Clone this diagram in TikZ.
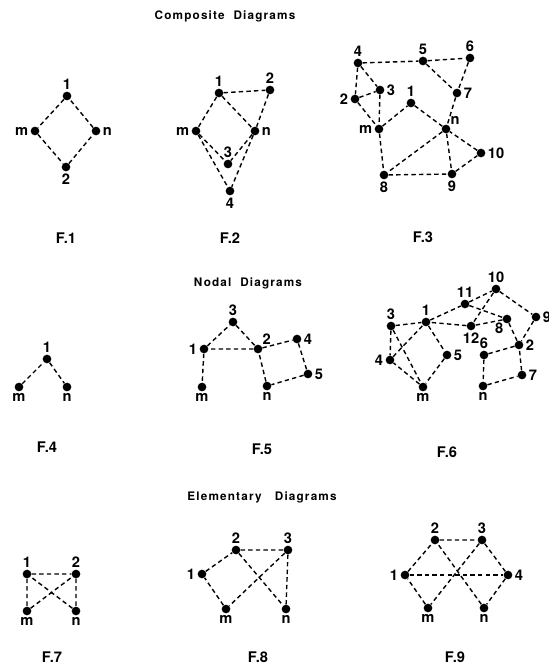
\documentclass[tikz,border=0pt]{standalone}
\usepackage{fontspec}
\setmainfont{TeX Gyre Heros}
\newfontfamily\titlefont[LetterSpace=10]{TeX Gyre Heros}
\begin{document}
\begin{tikzpicture}[x=0.75pt,y=-0.75pt,
  dot/.style={circle,fill=black,inner sep=0pt,minimum size=6.5pt},
  edge/.style={line width=1.05pt,dash pattern=on 3.3pt off 2.4pt},
  every label/.style={font=\bfseries\fontsize{11}{12}\selectfont,inner sep=1.5pt},
  figcap/.style={font=\bfseries\fontsize{11}{12}\selectfont},
  ttl/.style={font=\titlefont\bfseries\fontsize{8.8}{10}\selectfont}]
\useasboundingbox (0,0) rectangle (549,667);
% titles
\node[ttl] (t1) at (225,16) {Composite\ \ Diagrams};
\node[ttl] (t2) at (248,283) {Nodal\ \ Diagrams};
\node[ttl] (t3) at (262,497) {Elementary\ \ \ Diagrams};
% captions
\node[figcap] (c1) at (66,238) {F.1};
\node[figcap] (c2) at (230,238) {F.2};
\node[figcap] (c3) at (423,237) {F.3};
\node[figcap] (c4) at (47,447) {F.4};
\node[figcap] (c5) at (262,449) {F.5};
\node[figcap] (c6) at (447,452) {F.6};
\node[figcap] (c7) at (52,657) {F.7};
\node[figcap] (c8) at (258,657) {F.8};
\node[figcap] (c9) at (455,657) {F.9};
% F.1
\node[dot,label=above:1] (a1) at (67,96) {};
\node[dot,label=left:m] (am) at (35,131) {};
\node[dot,label=right:n] (an) at (96,131) {};
\node[dot,label=below:2] (a2) at (66,167) {};
\draw[edge] (a1) -- (am) -- (a2) -- (an) -- (a1);
% F.2
\node[dot,label=above:1] (b1) at (219,93) {};
\node[dot,label=above:2] (b2) at (270,90) {};
\node[dot,label=left:m] (bm) at (196,131) {};
\node[dot,label=right:n] (bn) at (255,131) {};
\node[dot,label=above:3] (b3) at (228,164) {};
\node[dot,label=below:4] (b4) at (230,191) {};
\draw[edge] (b1) -- (b2);
\draw[edge] (b1) -- (bm);
\draw[edge] (b1) -- (bn);
\draw[edge] (b2) -- (bn);
\draw[edge] (bm) -- (b3);
\draw[edge] (bm) -- (b4);
\draw[edge] (bn) -- (b3);
\draw[edge] (bn) -- (b4);
% F.3
\node[dot,label=above:4] (c4n) at (358,63) {};
\node[dot,label=above:5] (c5n) at (423,61) {};
\node[dot,label=above:6] (c6n) at (470,58) {};
\node[dot,label=right:3] (c3n) at (380,90) {};
\node[dot,label=left:2] (c2n) at (355,99) {};
\node[dot,label=above:1] (c1n) at (411,103) {};
\node[dot,label=right:7] (c7n) at (457,93) {};
\node[dot,label=left:m] (cm) at (379,129) {};
\node[dot,label={[label distance=-1pt]above right:n}] (cn) at (446,129) {};
\node[dot,label=right:10] (c10n) at (481,153) {};
\node[dot,label=below:8] (c8n) at (384,175) {};
\node[dot,label=below:9] (c9n) at (452,174) {};
\draw[edge] (c4n) -- (c5n) -- (c6n);
\draw[edge] (c4n) -- (c3n);
\draw[edge] (c4n) -- (c2n) -- (c3n);
\draw[edge] (c3n) -- (cm);
\draw[edge] (c2n) -- (cm);
\draw[edge] (cm) -- (c1n) -- (cn);
\draw[edge] (c5n) -- (c7n);
\draw[edge] (c6n) -- (c7n) -- (cn);
\draw[edge] (cn) -- (c8n);
\draw[edge] (cm) -- (c8n) -- (c9n) -- (c10n) -- (cn);
\draw[edge] (cn) -- (c9n);
% F.4
\node[dot,label=above:1] (d1) at (47,359) {};
\node[dot,label=below:m] (dm) at (19,387) {};
\node[dot,label=below:n] (dn) at (67,387) {};
\draw[edge] (dm) -- (d1) -- (dn);
% F.5
\node[dot,label=above:3] (e3) at (233,322) {};
\node[dot,label=left:1] (e1) at (204,349) {};
\node[dot,label={[label distance=-1pt]above right:2}] (e2) at (258,349) {};
\node[dot,label=right:4] (e4) at (297,339) {};
\node[dot,label=right:5] (e5) at (308,374) {};
\node[dot,label=below:m] (em) at (202,387) {};
\node[dot,label=below:n] (en) at (267,386) {};
\draw[edge] (e1) -- (e3) -- (e2) -- (e1);
\draw[edge] (e1) -- (em);
\draw[edge] (e2) -- (e4) -- (e5) -- (en) -- (e2);
% F.6
\node[dot,label=above:10] (f10) at (496,289) {};
\node[dot,label=above:11] (f11) at (465,304) {};
\node[dot,label=right:9] (f9) at (536,317) {};
\node[dot,label=above:3] (f3) at (391,326) {};
\node[dot,label=above:1] (f1) at (426,322) {};
\node[dot,label=below:12] (f12) at (471,326) {};
\node[dot,label={[label distance=-2pt]below left:8}] (f8) at (507,319) {};
\node[dot,label=above:6] (f6) at (484,355) {};
\node[dot,label=right:2] (f2) at (519,345) {};
\node[dot,label=left:4] (f4) at (390,360) {};
\node[dot,label=right:5] (f5) at (447,355) {};
\node[dot,label=below:m] (fm) at (423,387) {};
\node[dot,label=below:n] (fn) at (483,386) {};
\node[dot,label=right:7] (f7) at (522,375) {};
\draw[edge] (f3) -- (f1);
\draw[edge] (f3) -- (f4) -- (f1);
\draw[edge] (f3) -- (fm) -- (f4);
\draw[edge] (f1) -- (f5) -- (fm);
\draw[edge] (f1) -- (f11) -- (f10) -- (f12) -- (f1);
\draw[edge] (f11) -- (f8) -- (f12);
\draw[edge] (f10) -- (f9) -- (f2) -- (f8);
\draw[edge] (f2) -- (f6) -- (fn) -- (f7) -- (f2);
% F.7
\node[dot,label=above:1] (g1) at (27,574) {};
\node[dot,label=above:2] (g2) at (76,574) {};
\node[dot,label=below:m] (gm) at (27,611) {};
\node[dot,label=below:n] (gn) at (76,611) {};
\draw[edge] (g1) -- (g2) -- (gn) -- (g1) -- (gm) -- (g2);
% F.8
\node[dot,label=left:1] (h1) at (202,574) {};
\node[dot,label=above:2] (h2) at (236,550) {};
\node[dot,label=above:3] (h3) at (288,550) {};
\node[dot,label=below:m] (hm) at (226,609) {};
\node[dot,label=below:n] (hn) at (286,609) {};
\draw[edge] (hm) -- (h1) -- (h2) -- (h3) -- (hm);
\draw[edge] (h2) -- (hn) -- (h3);
% F.9
\node[dot,label=above:2] (i2) at (435,540) {};
\node[dot,label=above:3] (i3) at (482,540) {};
\node[dot,label=left:1] (i1) at (405,575) {};
\node[dot,label=right:4] (i4) at (508,575) {};
\node[dot,label=below:m] (im) at (428,608) {};
\node[dot,label=below:n] (in) at (484,608) {};
\draw[edge] (im) -- (i1) -- (i2) -- (i3) -- (i4) -- (in) -- (i2);
\draw[edge] (i1) -- (i4);
\draw[edge] (i3) -- (im);
\end{tikzpicture}
\end{document}
